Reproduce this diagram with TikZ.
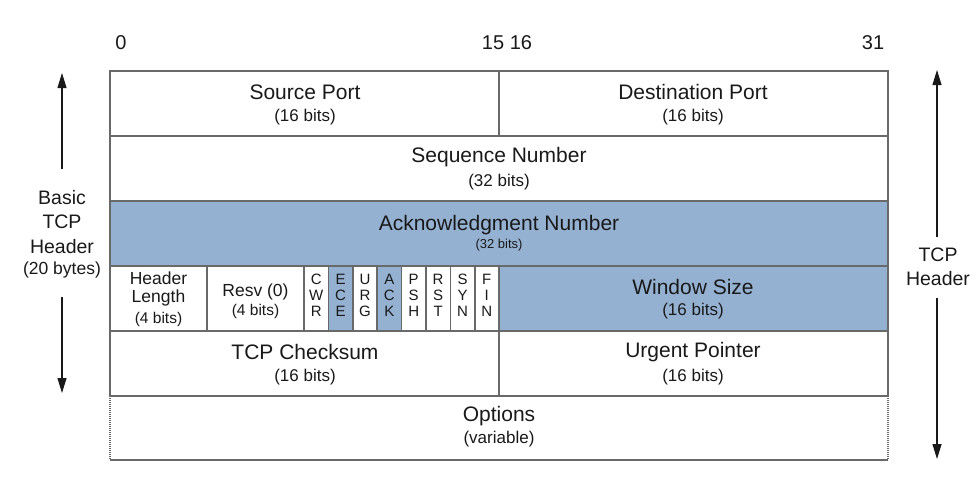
\documentclass[tikz,border=0pt]{standalone}
\usepackage{fontspec}
\setmainfont{Liberation Sans}
\usetikzlibrary{arrows.meta}
\definecolor{hdrblue}{RGB}{149,177,210}
\definecolor{hdrline}{RGB}{105,105,105}
\definecolor{txt}{RGB}{25,25,25}
\begin{document}
\begin{tikzpicture}[x=1pt,y=-1pt,
  cell/.style={draw=hdrline, line width=1.6pt, inner sep=0pt, outer sep=0pt, anchor=north west},
  shaded/.style={cell, fill=hdrblue},
  big/.style={font=\fontsize{21}{24}\selectfont, inner sep=0pt, text=txt},
  mid/.style={font=\fontsize{17.5}{20}\selectfont, inner sep=0pt, text=txt},
  sub/.style={font=\fontsize{17}{20}\selectfont, inner sep=0pt, text=txt},
  small/.style={font=\fontsize{15.5}{18}\selectfont, inner sep=0pt, text=txt},
  tiny/.style={font=\fontsize{13}{15}\selectfont, inner sep=0pt, text=txt},
  flag/.style={font=\fontsize{15}{17}\selectfont, inner sep=0pt, text=txt},
  side/.style={font=\fontsize{19.5}{22}\selectfont, inner sep=0pt, text=txt},
  arr/.style={draw=txt, line width=1.1pt, -{Triangle[length=15pt,width=9pt]}},
  dotline/.style={draw=hdrline, line width=1.4pt, dash pattern=on 1pt off 1pt}
]
\useasboundingbox (0,0) rectangle (977,477);

% bit numbers
\node[side, font=\fontsize{20}{22}\selectfont] (b0) at (121,43) {0};
\node[side, font=\fontsize{20}{22}\selectfont] (b1516) at (507,43) {15 16};
\node[side, font=\fontsize{20}{22}\selectfont] (b31) at (873,43) {31};

% row 1
\node[cell, minimum width=389pt, minimum height=65pt] (srcport) at (110,71) {};
\node[cell, minimum width=389pt, minimum height=65pt] (dstport) at (499,71) {};
% row 2
\node[cell, minimum width=778pt, minimum height=65pt] (seqnum) at (110,136) {};
% row 3
\node[shaded, minimum width=778pt, minimum height=65pt] (acknum) at (110,201) {};
% row 4
\node[cell, minimum width=97pt, minimum height=65pt] (hlen) at (110,266) {};
\node[cell, minimum width=97pt, minimum height=65pt] (resv) at (207,266) {};
\node[cell, minimum width=24.4pt, minimum height=65pt] (fcwr) at (304,266) {};
\node[shaded, minimum width=24.4pt, minimum height=65pt] (fece) at (328.4,266) {};
\node[cell, minimum width=24.4pt, minimum height=65pt] (furg) at (352.8,266) {};
\node[shaded, minimum width=24.4pt, minimum height=65pt] (fack) at (377.1,266) {};
\node[cell, minimum width=24.4pt, minimum height=65pt] (fpsh) at (401.5,266) {};
\node[cell, minimum width=24.4pt, minimum height=65pt] (frst) at (425.9,266) {};
\node[cell, minimum width=24.4pt, minimum height=65pt] (fsyn) at (450.3,266) {};
\node[cell, minimum width=24.4pt, minimum height=65pt] (ffin) at (474.6,266) {};
\node[shaded, minimum width=389pt, minimum height=65pt] (win) at (499,266) {};
% row 5
\node[cell, minimum width=389pt, minimum height=65pt] (csum) at (110,331) {};
\node[cell, minimum width=389pt, minimum height=65pt] (urg) at (499,331) {};
% options row
\node[inner sep=0pt, outer sep=0pt, anchor=north west, minimum width=778pt, minimum height=64pt] (opts) at (110,396) {};
\draw[dotline] (opts.north west) -- (opts.south west);
\draw[dotline] (opts.north east) -- (opts.south east);
\draw[draw=hdrline, line width=1.6pt] (opts.south west) -- (opts.south east);

% texts
\node[big] (tsp) at (305,92) {Source Port};
\node[sub] (tsp2) at (305,117) {(16 bits)};
\node[big] (tdp) at (693,92) {Destination Port};
\node[sub] (tdp2) at (693,117) {(16 bits)};
\node[big] (tseq) at (499,157) {Sequence Number};
\node[sub] (tseq2) at (499,182) {(32 bits)};
\node[big] (tack) at (499,225) {Acknowledgment Number};
\node[tiny] (tack2) at (499,245) {(32 bits)};
\node[mid] (thl1) at (158.5,278) {Header};
\node[mid] (thl2) at (158.5,298) {Length};
\node[small] (thl3) at (158.5,319) {(4 bits)};
\node[mid] (trs1) at (255.5,292) {Resv (0)};
\node[small] (trs2) at (255.5,311) {(4 bits)};
\foreach \n/\a/\b/\c in {fcwr/C/W/R, fece/E/C/E, furg/U/R/G, fack/A/C/K, fpsh/P/S/H, frst/R/S/T, fsyn/S/Y/N, ffin/F/I/N}{
  \node[flag] (\n-a) at ([yshift=-13pt]\n.north) {\a};
  \node[flag] (\n-b) at ([yshift=-29pt]\n.north) {\b};
  \node[flag] (\n-c) at ([yshift=-45.5pt]\n.north) {\c};
}
\node[big] (twin) at (693,287) {Window Size};
\node[sub] (twin2) at (693,311) {(16 bits)};
\node[big] (tcs) at (305,352) {TCP Checksum};
\node[sub] (tcs2) at (305,377) {(16 bits)};
\node[big] (tup) at (693,352) {Urgent Pointer};
\node[sub] (tup2) at (693,377) {(16 bits)};
\node[big] (top) at (499,416) {Options};
\node[sub] (top2) at (499,439) {(variable)};

% left annotation
\node[side] (lb1) at (62,198) {Basic};
\node[side] (lb2) at (62,222) {TCP};
\node[side] (lb3) at (62,247) {Header};
\node[font=\fontsize{17.5}{20}\selectfont, inner sep=0pt, text=txt] (lb4) at (62,270) {(20 bytes)};
\coordinate (ltop) at (62,73);
\coordinate (lstart1) at (62,169);
\coordinate (lstart2) at (62,297);
\coordinate (lbot) at (62,393);
\draw[arr] (lstart1) -- (ltop);
\draw[arr] (lstart2) -- (lbot);

% right annotation
\node[side] (rb1) at (938,255) {TCP};
\node[side] (rb2) at (938,279) {Header};
\coordinate (rtop) at (937,70);
\coordinate (rstart1) at (937,237);
\coordinate (rstart2) at (937,298);
\coordinate (rbot) at (937,459);
\draw[arr] (rstart1) -- (rtop);
\draw[arr] (rstart2) -- (rbot);
\end{tikzpicture}
\end{document}
